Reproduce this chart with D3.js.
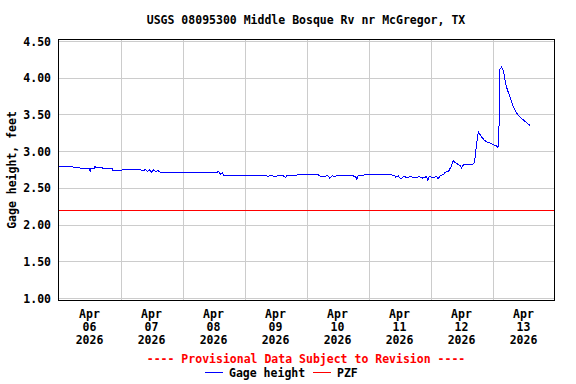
<!DOCTYPE html>
<html>
<head>
<meta charset="utf-8">
<title>USGS 08095300</title>
<script src="https://d3js.org/d3.v7.min.js"></script>
<style>
  body { margin: 0; background: #fff; }
  text { font-family: "DejaVu Sans Mono", monospace; font-weight: bold; font-size: 11.5px; }
  line, rect, path { shape-rendering: crispEdges; }
</style>
</head>
<body>
<div id="chart"></div>
<script>
// gage height readings (local time, feet)
var times = [
  "2026-04-06 00:00","2026-04-06 05:30","2026-04-06 05:45","2026-04-06 08:15","2026-04-06 08:30",
  "2026-04-06 12:00","2026-04-06 12:15","2026-04-06 12:30","2026-04-06 13:45","2026-04-06 14:00",
  "2026-04-06 14:15","2026-04-06 14:30","2026-04-06 17:00","2026-04-06 17:15","2026-04-06 20:45",
  "2026-04-06 21:00","2026-04-07 00:30","2026-04-07 00:45","2026-04-07 07:30","2026-04-07 08:00",
  "2026-04-07 09:00","2026-04-07 09:30","2026-04-07 10:30","2026-04-07 11:15","2026-04-07 12:00",
  "2026-04-07 12:45","2026-04-07 13:30","2026-04-07 14:30","2026-04-07 15:30","2026-04-07 21:00",
  "2026-04-07 21:15","2026-04-08 01:30","2026-04-08 02:30","2026-04-08 03:00","2026-04-08 04:30",
  "2026-04-08 05:00","2026-04-08 13:30","2026-04-08 13:45","2026-04-08 14:15","2026-04-08 14:45",
  "2026-04-08 15:30","2026-04-08 16:00","2026-04-09 06:00","2026-04-09 06:30","2026-04-09 08:00",
  "2026-04-09 09:00","2026-04-09 10:30","2026-04-09 11:30","2026-04-09 13:00","2026-04-09 14:30",
  "2026-04-09 16:00","2026-04-09 16:30","2026-04-09 18:00","2026-04-09 19:00","2026-04-09 21:30",
  "2026-04-10 04:30","2026-04-10 05:00","2026-04-10 07:00","2026-04-10 08:00","2026-04-10 09:00",
  "2026-04-10 10:00","2026-04-10 11:00","2026-04-10 12:00","2026-04-10 15:30","2026-04-10 17:00",
  "2026-04-10 19:00","2026-04-10 19:30","2026-04-10 20:00","2026-04-10 21:00","2026-04-11 04:00",
  "2026-04-11 10:00","2026-04-11 10:30","2026-04-11 11:30","2026-04-11 12:30","2026-04-11 13:30",
  "2026-04-11 15:00","2026-04-11 16:30","2026-04-11 18:00","2026-04-11 19:30","2026-04-11 21:00",
  "2026-04-11 22:30","2026-04-11 23:00","2026-04-11 23:30","2026-04-12 01:00","2026-04-12 02:30",
  "2026-04-12 03:00","2026-04-12 03:45","2026-04-12 05:00","2026-04-12 05:45","2026-04-12 07:00",
  "2026-04-12 08:00","2026-04-12 08:45","2026-04-12 09:30","2026-04-12 10:30","2026-04-12 11:30",
  "2026-04-12 12:00","2026-04-12 12:45","2026-04-12 15:30","2026-04-12 16:30","2026-04-12 17:00",
  "2026-04-12 17:30","2026-04-12 18:00","2026-04-12 18:30","2026-04-12 19:00","2026-04-12 19:30",
  "2026-04-12 20:00","2026-04-12 21:00","2026-04-12 22:00","2026-04-12 23:00","2026-04-13 00:00",
  "2026-04-13 00:30","2026-04-13 01:30","2026-04-13 02:00","2026-04-13 02:15","2026-04-13 02:30",
  "2026-04-13 02:45","2026-04-13 03:30","2026-04-13 04:00","2026-04-13 04:30","2026-04-13 05:15",
  "2026-04-13 06:00","2026-04-13 07:00","2026-04-13 08:00","2026-04-13 09:00","2026-04-13 10:00",
  "2026-04-13 11:00","2026-04-13 12:00","2026-04-13 13:00","2026-04-13 14:00","2026-04-13 14:30"
];
var gageHeight = [
  2.80,2.80,2.78,2.78,2.77,
  2.77,2.73,2.77,2.77,2.79,
  2.80,2.78,2.78,2.77,2.77,
  2.74,2.74,2.76,2.76,2.75,
  2.74,2.76,2.73,2.75,2.72,
  2.75,2.73,2.74,2.72,2.72,
  2.71,2.71,2.72,2.71,2.72,
  2.71,2.71,2.73,2.72,2.69,
  2.71,2.68,2.68,2.67,2.68,
  2.66,2.68,2.66,2.67,2.68,
  2.65,2.68,2.68,2.67,2.69,
  2.69,2.67,2.66,2.68,2.64,
  2.67,2.66,2.68,2.67,2.68,
  2.66,2.62,2.67,2.68,2.69,
  2.68,2.65,2.67,2.63,2.66,
  2.65,2.66,2.64,2.66,2.64,
  2.66,2.61,2.66,2.65,2.66,
  2.63,2.67,2.69,2.72,2.73,
  2.80,2.88,2.85,2.83,2.81,
  2.78,2.82,2.82,2.83,2.85,
  3.00,3.15,3.27,3.24,3.22,
  3.19,3.15,3.13,3.12,3.10,
  3.09,3.08,3.06,3.08,3.27,
  4.12,4.15,4.12,4.05,3.90,
  3.82,3.72,3.62,3.55,3.49,
  3.46,3.43,3.40,3.37,3.36
];
var pzf = 2.20;
var yTicks = [1.00, 1.50, 2.00, 2.50, 3.00, 3.50, 4.00, 4.50];
var dayLabels = ["2026-04-06","2026-04-07","2026-04-08","2026-04-09","2026-04-10","2026-04-11","2026-04-12","2026-04-13"];
var startDay = "2026-04-06", endDay = "2026-04-14";

var width = 576, height = 384;
// frame is a little larger than the value range, like the USGS plots
var frame = {left: 58.5, right: 554.5, top: 39.5, bottom: 300.5};
var yRange = [298.5, 41.5];

var parseTime = d3.timeParse("%Y-%m-%d %H:%M");
var parseDay = d3.timeParse("%Y-%m-%d");

var data = times.map(function(t, i) { return {t: parseTime(t), v: gageHeight[i]}; });

var x = d3.scaleTime().domain([parseDay(startDay), parseDay(endDay)]).range([frame.left, frame.right]);
var y = d3.scaleLinear().domain([1, 4.5]).range(yRange);
var row = function(v) { return Math.floor(y(v)) + 0.5; };

var svg = d3.select("#chart").append("svg")
  .attr("width", width).attr("height", height);

// grid
var dayEdges = d3.timeDay.range(parseDay(startDay), parseDay(endDay));
svg.append("g").selectAll("line").data(dayEdges.slice(1)).enter().append("line")
  .attr("x1", function(d) { return Math.round(x(d)) + 0.5; })
  .attr("x2", function(d) { return Math.round(x(d)) + 0.5; })
  .attr("y1", frame.top).attr("y2", frame.bottom)
  .attr("stroke", "#cccccc").attr("stroke-width", 1);

svg.append("g").selectAll("line").data(yTicks).enter().append("line")
  .attr("x1", frame.left).attr("x2", frame.right)
  .attr("y1", row).attr("y2", row)
  .attr("stroke", "#cccccc").attr("stroke-width", 1);

// PZF line
svg.append("line")
  .attr("x1", frame.left).attr("x2", frame.right)
  .attr("y1", row(pzf)).attr("y2", row(pzf))
  .attr("stroke", "#ff0000").attr("stroke-width", 1);

// gage height line
var line = d3.line().x(function(d) { return x(d.t); }).y(function(d) { return y(d.v); });
svg.append("path").datum(data)
  .attr("d", line)
  .attr("fill", "none")
  .attr("stroke", "#0000ff")
  .attr("stroke-width", 1);

// frame
svg.append("rect")
  .attr("x", frame.left).attr("y", frame.top)
  .attr("width", frame.right - frame.left).attr("height", frame.bottom - frame.top)
  .attr("fill", "none").attr("stroke", "#000").attr("stroke-width", 1);

// y tick labels
svg.append("g").selectAll("text").data(yTicks).enter().append("text")
  .attr("x", 51).attr("y", function(d) { return y(d) + 4; })
  .attr("text-anchor", "end")
  .text(function(d) { return d.toFixed(2); });

// y axis title
svg.append("text")
  .attr("transform", "translate(16," + ((yRange[0] + yRange[1]) / 2) + ") rotate(-90)")
  .attr("text-anchor", "middle")
  .text("Gage height, feet");

// x tick labels (noon of each day)
var fmtMon = d3.timeFormat("%b"), fmtDay = d3.timeFormat("%d"), fmtYr = d3.timeFormat("%Y");
var noonX = function(d) { return x(d3.timeHour.offset(d, 12)); };
var xl = svg.append("g").selectAll("text").data(dayLabels.map(parseDay)).enter().append("text")
  .attr("text-anchor", "middle")
  .attr("x", noonX)
  .attr("y", 318);
xl.append("tspan").attr("x", noonX).attr("dy", 0).text(fmtMon);
xl.append("tspan").attr("x", noonX).attr("dy", 13).text(fmtDay);
xl.append("tspan").attr("x", noonX).attr("dy", 13).text(fmtYr);

// title
svg.append("text")
  .attr("x", 306).attr("y", 24)
  .attr("text-anchor", "middle")
  .text("USGS 08095300 Middle Bosque Rv nr McGregor, TX");

// provisional note
svg.append("text")
  .attr("x", 306).attr("y", 363)
  .attr("text-anchor", "middle")
  .attr("fill", "#ff0000")
  .text("---- Provisional Data Subject to Revision ----");

// legend
var legend = [{label: "Gage height", color: "#0000ff", x: 205}, {label: "PZF", color: "#ff0000", x: 313}];
var lg = svg.append("g").selectAll("g").data(legend).enter().append("g");
lg.append("line")
  .attr("x1", function(d) { return d.x; }).attr("x2", function(d) { return d.x + 18; })
  .attr("y1", 372.5).attr("y2", 372.5)
  .attr("stroke", function(d) { return d.color; }).attr("stroke-width", 1);
lg.append("text")
  .attr("x", function(d) { return d.x + 24; }).attr("y", 377)
  .text(function(d) { return d.label; });
</script>
</body>
</html>
